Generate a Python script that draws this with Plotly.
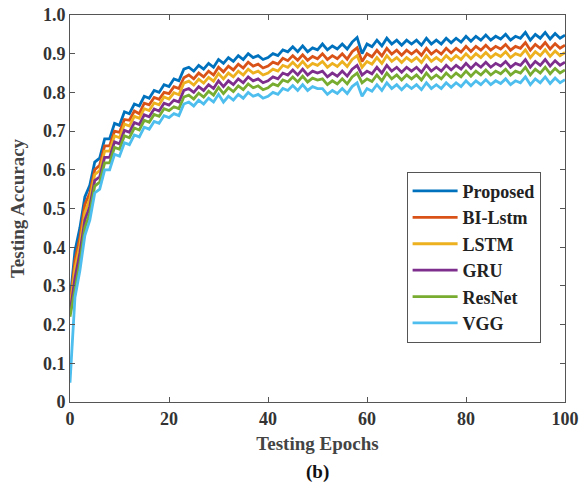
import plotly.graph_objects as go

epochs = list(range(0, 101))

proposed = [
0.26, 0.39, 0.45, 0.53, 0.56, 0.62, 0.63, 0.68, 0.68, 0.72,
0.715, 0.75, 0.745, 0.77, 0.765, 0.79, 0.785, 0.805, 0.80, 0.82,
0.815, 0.835, 0.83, 0.86, 0.865, 0.855, 0.87, 0.86, 0.875, 0.865,
0.885, 0.875, 0.89, 0.88, 0.895, 0.885, 0.90, 0.89, 0.895, 0.885,
0.89, 0.90, 0.895, 0.91, 0.905, 0.918, 0.905, 0.92, 0.905, 0.915,
0.91, 0.925, 0.91, 0.92, 0.912, 0.925, 0.912, 0.93, 0.942, 0.90,
0.925, 0.918, 0.935, 0.92, 0.94, 0.925, 0.935, 0.922, 0.935, 0.925,
0.935, 0.922, 0.94, 0.925, 0.935, 0.925, 0.94, 0.928, 0.94, 0.93,
0.945, 0.932, 0.945, 0.935, 0.948, 0.935, 0.945, 0.938, 0.95, 0.935,
0.945, 0.94, 0.955, 0.935, 0.95, 0.94, 0.955, 0.938, 0.952, 0.94, 0.948]

bilstm = [
0.25, 0.365, 0.425, 0.51, 0.54, 0.60, 0.612, 0.662, 0.662, 0.70,
0.697, 0.73, 0.728, 0.752, 0.745, 0.772, 0.768, 0.787, 0.782, 0.80,
0.797, 0.815, 0.81, 0.838, 0.845, 0.835, 0.85, 0.84, 0.855, 0.845,
0.865, 0.853, 0.868, 0.858, 0.873, 0.863, 0.878, 0.868, 0.873, 0.863,
0.868, 0.878, 0.873, 0.888, 0.882, 0.895, 0.883, 0.897, 0.883, 0.893,
0.887, 0.90, 0.885, 0.895, 0.887, 0.90, 0.886, 0.905, 0.915, 0.88,
0.90, 0.892, 0.909, 0.894, 0.914, 0.899, 0.909, 0.896, 0.909, 0.899,
0.909, 0.896, 0.914, 0.899, 0.909, 0.899, 0.914, 0.902, 0.914, 0.904,
0.919, 0.906, 0.919, 0.909, 0.922, 0.909, 0.919, 0.912, 0.924, 0.909,
0.919, 0.914, 0.929, 0.909, 0.924, 0.914, 0.929, 0.912, 0.926, 0.914, 0.922]

lstm = [
0.24, 0.345, 0.405, 0.49, 0.524, 0.588, 0.598, 0.648, 0.648, 0.688,
0.683, 0.718, 0.713, 0.738, 0.733, 0.758, 0.753, 0.773, 0.768, 0.788,
0.783, 0.799, 0.794, 0.824, 0.829, 0.819, 0.834, 0.824, 0.839, 0.829,
0.849, 0.835, 0.85, 0.84, 0.855, 0.845, 0.86, 0.85, 0.855, 0.845,
0.85, 0.86, 0.855, 0.87, 0.865, 0.878, 0.865, 0.88, 0.865, 0.875,
0.87, 0.88, 0.865, 0.875, 0.867, 0.88, 0.867, 0.885, 0.895, 0.865,
0.88, 0.873, 0.89, 0.875, 0.895, 0.88, 0.89, 0.877, 0.89, 0.88,
0.89, 0.877, 0.895, 0.88, 0.89, 0.88, 0.895, 0.883, 0.895, 0.885,
0.90, 0.887, 0.90, 0.89, 0.903, 0.89, 0.90, 0.893, 0.905, 0.89,
0.90, 0.895, 0.91, 0.89, 0.905, 0.895, 0.91, 0.893, 0.907, 0.895, 0.903]

gru = [
0.23, 0.32, 0.385, 0.47, 0.505, 0.572, 0.582, 0.632, 0.632, 0.672,
0.667, 0.702, 0.697, 0.722, 0.717, 0.742, 0.737, 0.757, 0.752, 0.772,
0.767, 0.78, 0.775, 0.805, 0.81, 0.80, 0.815, 0.805, 0.82, 0.81,
0.83, 0.815, 0.83, 0.82, 0.835, 0.825, 0.84, 0.83, 0.835, 0.825,
0.83, 0.84, 0.835, 0.85, 0.845, 0.858, 0.845, 0.86, 0.845, 0.855,
0.85, 0.855, 0.84, 0.85, 0.842, 0.855, 0.842, 0.86, 0.87, 0.845,
0.855, 0.848, 0.865, 0.85, 0.87, 0.855, 0.865, 0.852, 0.865, 0.855,
0.865, 0.852, 0.87, 0.855, 0.865, 0.855, 0.87, 0.858, 0.87, 0.86,
0.875, 0.862, 0.875, 0.865, 0.878, 0.865, 0.875, 0.868, 0.88, 0.865,
0.875, 0.87, 0.885, 0.865, 0.88, 0.87, 0.885, 0.868, 0.882, 0.87, 0.878]

resnet = [
0.22, 0.295, 0.36, 0.45, 0.488, 0.558, 0.568, 0.618, 0.618, 0.658,
0.653, 0.688, 0.683, 0.708, 0.703, 0.728, 0.723, 0.743, 0.738, 0.758,
0.753, 0.763, 0.758, 0.788, 0.793, 0.783, 0.798, 0.788, 0.803, 0.793,
0.813, 0.797, 0.812, 0.802, 0.817, 0.807, 0.822, 0.812, 0.817, 0.807,
0.812, 0.822, 0.817, 0.832, 0.827, 0.84, 0.827, 0.842, 0.827, 0.837,
0.832, 0.835, 0.82, 0.83, 0.822, 0.835, 0.822, 0.84, 0.85, 0.825,
0.835, 0.828, 0.845, 0.83, 0.85, 0.835, 0.845, 0.832, 0.845, 0.835,
0.845, 0.832, 0.85, 0.835, 0.845, 0.835, 0.85, 0.838, 0.85, 0.84,
0.855, 0.842, 0.855, 0.845, 0.858, 0.845, 0.855, 0.848, 0.86, 0.845,
0.855, 0.85, 0.865, 0.845, 0.86, 0.85, 0.865, 0.848, 0.862, 0.85, 0.858]

vgg = [
0.05, 0.27, 0.34, 0.43, 0.47, 0.54, 0.55, 0.60, 0.60, 0.64,
0.635, 0.67, 0.665, 0.69, 0.685, 0.71, 0.705, 0.725, 0.72, 0.74,
0.735, 0.745, 0.74, 0.77, 0.775, 0.765, 0.78, 0.77, 0.785, 0.775,
0.795, 0.775, 0.79, 0.78, 0.795, 0.785, 0.80, 0.79, 0.795, 0.785,
0.79, 0.80, 0.795, 0.81, 0.805, 0.818, 0.805, 0.82, 0.805, 0.815,
0.81, 0.81, 0.795, 0.805, 0.797, 0.81, 0.797, 0.815, 0.825, 0.79,
0.81, 0.803, 0.82, 0.805, 0.825, 0.81, 0.82, 0.807, 0.82, 0.81,
0.82, 0.807, 0.825, 0.81, 0.82, 0.81, 0.825, 0.813, 0.825, 0.815,
0.83, 0.817, 0.83, 0.82, 0.833, 0.82, 0.83, 0.823, 0.835, 0.82,
0.83, 0.825, 0.84, 0.82, 0.835, 0.825, 0.84, 0.823, 0.837, 0.825, 0.833]

names = ["Proposed", "BI-Lstm", "LSTM", "GRU", "ResNet", "VGG"]
series = [proposed, bilstm, lstm, gru, resnet, vgg]
colors = ["#0072BD", "#D95319", "#EDB120", "#7E2F8E", "#77AC30", "#4DBEEE"]

x_ticks = [0, 20, 40, 60, 80, 100]
y_ticks = [0, 0.1, 0.2, 0.3, 0.4, 0.5, 0.6, 0.7, 0.8, 0.9, 1.0]
y_ticktext = ["0", "0.1", "0.2", "0.3", "0.4", "0.5", "0.6", "0.7", "0.8", "0.9", "1.0"]

FONT = "Liberation Serif"

fig = go.Figure()
for name, ys, c in zip(names, series, colors):
    fig.add_trace(go.Scatter(x=epochs, y=ys, mode="lines", name=name,
                             line=dict(color=c, width=2.8)))

axis_common = dict(showline=True, linecolor="#555555", linewidth=1, mirror="ticks",
                   ticks="inside", ticklen=5, tickcolor="#555555", showgrid=False,
                   zeroline=False, automargin=False,
                   tickfont=dict(family=FONT, size=18, color="#333333", weight="bold"))

fig.update_xaxes(range=[0, 100], tickvals=x_ticks,
                 title=dict(text="Testing Epochs", font=dict(family=FONT, size=19, color="#444444", weight="bold"), standoff=9),
                 **axis_common)
fig.update_yaxes(range=[0, 1], tickvals=y_ticks, ticktext=y_ticktext,
                 title=dict(text="Testing Accuracy", font=dict(family=FONT, size=19, color="#444444", weight="bold"), standoff=13),
                 **axis_common)

fig.add_annotation(text="(b)", xref="paper", yref="paper", x=0.5, y=-0.148,
                   xanchor="center", yanchor="top", showarrow=False,
                   font=dict(family=FONT, size=19, color="#111111", weight="bold"))

fig.update_layout(
    width=581, height=489,
    margin=dict(l=70, r=16, t=15, b=87),
    paper_bgcolor="white", plot_bgcolor="white",
    legend=dict(x=0.68, y=0.595, xanchor="left", yanchor="top",
                bordercolor="#555555", borderwidth=1, bgcolor="white",
                font=dict(family=FONT, size=18, color="#222222", weight="bold"),
                tracegroupgap=0, itemwidth=45),
)

fig.write_html("out.html")
